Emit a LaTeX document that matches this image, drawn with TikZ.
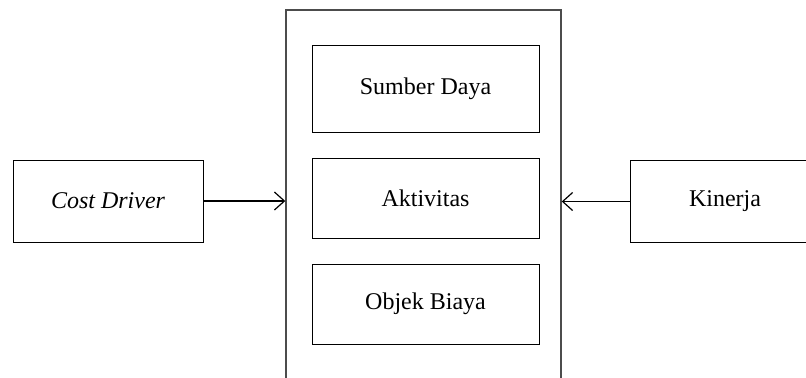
\documentclass[tikz,border=0pt]{standalone}
\usepackage{fontspec}
\setmainfont{Liberation Serif}
\usetikzlibrary{arrows.meta}

\tikzset{
  box/.style={draw,line width=0.5pt,inner sep=0pt,font=\fontsize{12}{14}\selectfont},
  inbox/.style={box,minimum width=113.5pt},
  sidebox/.style={box,minimum width=95pt,minimum height=41pt},
  link/.style={line width=0.6pt,-{Straight Barb[length=5pt,width=9pt]}}
}

\begin{document}
\begin{tikzpicture}[x=0.5pt,y=0.5pt]
\clip (0,0) rectangle (806,377);
% frame with the three parts
\node[box,draw=black!70,line width=0.7pt,minimum width=137.5pt,minimum height=191pt] (frame) at (423.5,176) {};
\node[inbox,minimum height=43.5pt] (sumber) at (425.5,288.5) {Sumber Daya};
\node[inbox,minimum height=40pt] (aktivitas) at (425.5,179) {Aktivitas};
\node[inbox,minimum height=40pt] (objek) at (425.5,73) {Objek Biaya};
% outside
\node[sidebox] (cost) at (108,176) {\itshape Cost Driver};
\node[sidebox] (kinerja) at (725,175.5) {Kinerja};
\draw[link] (cost.east) -- (cost.east -| frame.west);
\draw[link] (kinerja.west) -- (kinerja.west -| frame.east);
\end{tikzpicture}
\end{document}
